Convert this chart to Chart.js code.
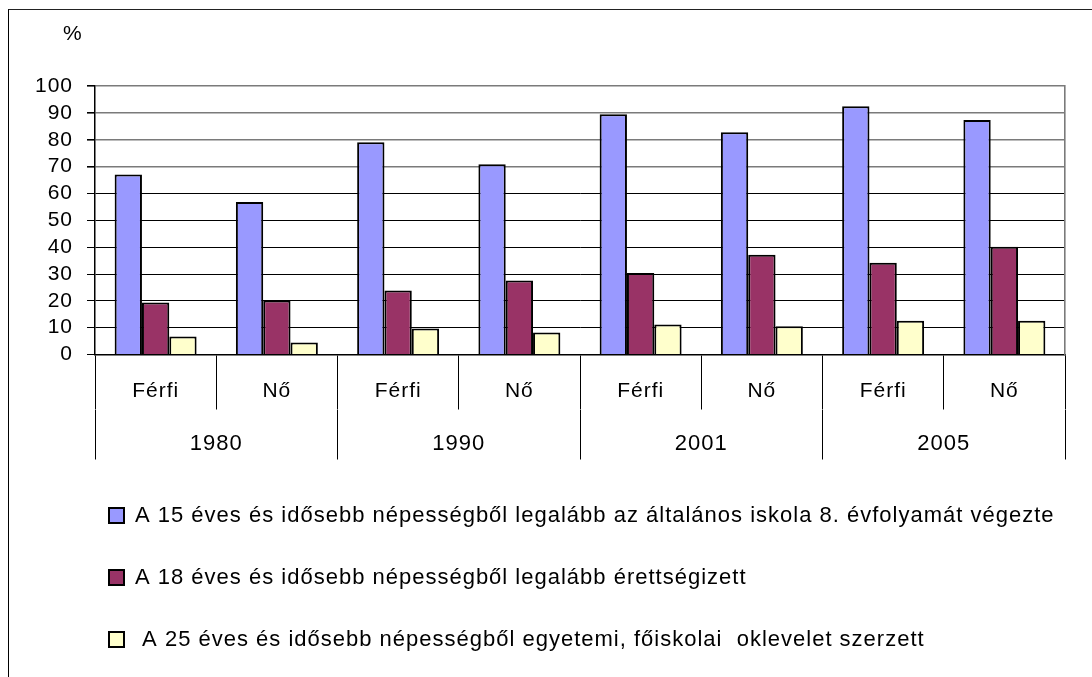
<!DOCTYPE html>
<html>
<head>
<meta charset="utf-8">
<script src="https://cdn.jsdelivr.net/npm/chart.js@4.4.1/dist/chart.umd.min.js"></script>
<style>
  html, body { margin:0; padding:0; background:#fff; overflow:hidden; }
  #frame { position:absolute; left:8px; top:9px; width:3000px; height:3000px; border-left:1px solid #000; border-top:1px solid #222; }
  #wrap { position:absolute; left:0; top:0; width:1092px; height:677px; }
</style>
</head>
<body>
<div id="frame"></div>
<div id="wrap"><canvas id="c"></canvas></div>
<script>
// ---- data ----
const categories = ['Férfi', 'Nő', 'Férfi', 'Nő', 'Férfi', 'Nő', 'Férfi', 'Nő'];
const years = ['1980', '1990', '2001', '2005'];
const seriesNames = [
  'A 15 éves és idősebb népességből legalább az általános iskola 8. évfolyamát végezte',
  'A 18 éves és idősebb népességből legalább érettségizett',
  ' A 25 éves és idősebb népességből egyetemi, főiskolai  oklevelet szerzett'
];
const primary = [67.1, 56.8, 79.1, 70.9, 89.5, 82.8, 92.5, 87.4];
const secondary = [19.4, 20.1, 23.9, 27.6, 30.4, 37.2, 34.2, 40.2];
const tertiary = [6.7, 4.5, 9.7, 8.2, 11.2, 10.5, 12.6, 12.6];
const yTicks = [0, 10, 20, 30, 40, 50, 60, 70, 80, 90, 100];

Chart.defaults.font.family = "'Liberation Sans', Arial, sans-serif";
Chart.defaults.color = '#000';

const spacingPlugin = {
  id: 'spacing',
  beforeUpdate(chart) { try { chart.ctx.letterSpacing = '1px'; } catch (e) {} },
  beforeDraw(chart) { try { chart.ctx.letterSpacing = '1px'; } catch (e) {} },
  afterLayout(chart) {
    const area = chart.chartArea;
    if (chart.titleBlock) chart.titleBlock.left = area.left - 32;
    if (chart.legend) {
      const pad = chart.legend.options.labels.padding;
      chart.legend.left = area.left + 14 - pad;
    }
  }
};

const common = { borderColor: '#000', borderWidth: 2, categoryPercentage: 0.676, barPercentage: 1.0, xAxisID: 'x', yAxisID: 'y' };

new Chart(document.getElementById('c'), {
  type: 'bar',
  data: {
    labels: categories,
    datasets: [
      Object.assign({ label: seriesNames[0], data: primary, backgroundColor: '#9999FF' }, common),
      Object.assign({ label: seriesNames[1], data: secondary, backgroundColor: '#993366' }, common),
      Object.assign({ label: seriesNames[2], data: tertiary, backgroundColor: '#FFFFCC' }, common)
    ]
  },
  options: {
    responsive: true,
    maintainAspectRatio: false,
    animation: false,
    layout: { padding: { left: 0, right: 27, top: 0, bottom: 16.5 } },
    plugins: {
      tooltip: { enabled: false },
      title: {
        display: true, text: '%', align: 'start', color: '#000',
        font: { size: 21, weight: 'normal' },
        padding: { top: 22, bottom: 39 }
      },
      legend: {
        position: 'bottom', align: 'start',
        labels: {
          color: '#000', boxWidth: 15, boxHeight: 15, padding: 40,
          font: { size: 22 }
        }
      }
    },
    scales: {
      x: {
        type: 'category', position: 'bottom', offset: true,
        grid: { offset: true, drawOnChartArea: false, drawTicks: true, tickLength: 55, color: '#000', tickColor: '#000', lineWidth: 1 },
        border: { display: true, color: '#000', width: 1.5 },
        ticks: { font: { size: 21 }, color: '#000', padding: -30.6, maxRotation: 0, autoSkip: false },
        afterFit(scale) { scale.height = 55; }
      },
      x2: {
        type: 'category', position: 'bottom', labels: years, offset: true,
        grid: { offset: true, drawOnChartArea: false, drawTicks: true, tickLength: 50, color: '#000', tickColor: '#000', lineWidth: 1 },
        border: { display: false },
        ticks: { font: { size: 22 }, color: '#000', padding: -29.2, maxRotation: 0, autoSkip: false },
        afterFit(scale) { scale.height = 55; }
      },
      y: {
        position: 'left', min: 0, max: 100,
        afterBuildTicks(scale) { scale.ticks = yTicks.map(v => ({ value: v })); },
        grid: {
          color: c => (c.tick && c.tick.value >= 70 ? '#7a7a7a' : '#000'),
          lineWidth: c => (c.tick && c.tick.value >= 70 ? 1.6 : 1),
          tickColor: '#000', tickLength: 8, drawTicks: true
        },
        border: { display: true, color: '#000', width: 1.5 },
        ticks: { font: { size: 21 }, color: '#000', padding: 14, stepSize: 10, autoSkip: false },
        afterFit(scale) { scale.width = 95; }
      },
      yR: {
        position: 'right', min: 0, max: 100,
        grid: { display: false, drawTicks: false },
        ticks: { display: false },
        border: { display: true, color: '#7a7a7a', width: 1.6 },
        afterFit(scale) { scale.width = 0; }
      }
    }
  },
  plugins: [spacingPlugin]
});
</script>
</body>
</html>
